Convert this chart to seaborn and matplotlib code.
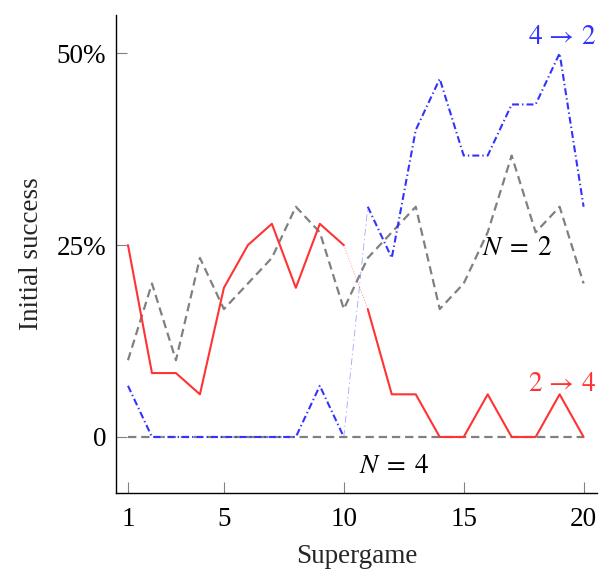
import numpy as np
import pandas as pd
import matplotlib
matplotlib.use("Agg")
import matplotlib.pyplot as plt
import seaborn as sns

# Share of groups with initial success, per supergame (percent)
supergames = list(range(1, 21))

# Treatment 2 -> 4 (switch after supergame 10)
switch_24_first = [25.0, 8.33, 8.33, 5.56, 19.44, 25.0, 27.78, 19.44, 27.78, 25.0]
switch_24_second = [16.67, 5.56, 5.56, 0.0, 0.0, 5.56, 0.0, 0.0, 5.56, 0.0]

# Treatment 4 -> 2 (switch after supergame 10)
switch_42_first = [6.67, 0.0, 0.0, 0.0, 0.0, 0.0, 0.0, 0.0, 6.67, 0.0]
switch_42_second = [30.0, 23.33, 40.0, 46.67, 36.67, 36.67, 43.33, 43.33, 50.0, 30.0]

# Constant-size controls
fixed_n2 = [10.0, 20.0, 10.0, 23.33, 16.67, 20.0, 23.33, 30.0, 26.67, 16.67,
            23.33, 26.67, 30.0, 16.67, 20.0, 26.67, 36.67, 26.67, 30.0, 20.0]
fixed_n4 = [0.0] * 20

ytick_vals = [0, 25, 50]
ytick_labels = ["0", "25%", "50%"]
xtick_vals = [1, 5, 10, 15, 20]

sns.set_theme(style="ticks")
plt.rcParams["font.family"] = ["Liberation Serif", "DejaVu Serif"]
plt.rcParams["mathtext.fontset"] = "stix"
plt.rcParams["lines.scale_dashes"] = False

RED = "#ff3333"
BLUE = "#3333ff"
GRAY = "#808080"
FS = 19.5

fig = plt.figure(figsize=(6.01, 5.73), dpi=100)
ax = fig.add_axes([0.193, 0.1396, 0.8, 0.8344])

first = supergames[:10]
second = supergames[10:]

# Controls
sns.lineplot(x=supergames, y=fixed_n2, ax=ax, color=GRAY, lw=1.6,
             linestyle=(0, (6, 3.5)), zorder=2)
sns.lineplot(x=supergames, y=fixed_n4, ax=ax, color=GRAY, lw=1.6,
             linestyle=(0, (6, 3.5)), zorder=2)

# 4 -> 2
sns.lineplot(x=first, y=switch_42_first, ax=ax, color=BLUE, lw=1.5,
             linestyle=(0, (5, 2.2, 1, 2.2)), zorder=3)
sns.lineplot(x=second, y=switch_42_second, ax=ax, color=BLUE, lw=1.5,
             linestyle=(0, (5, 2.2, 1, 2.2)), zorder=3)
sns.lineplot(x=[first[-1], second[0]], y=[switch_42_first[-1], switch_42_second[0]],
             ax=ax, color=BLUE, lw=0.6, alpha=0.45,
             linestyle=(0, (5, 2.2, 1, 2.2)), zorder=1)

# 2 -> 4
sns.lineplot(x=first, y=switch_24_first, ax=ax, color=RED, lw=1.5, zorder=4)
sns.lineplot(x=second, y=switch_24_second, ax=ax, color=RED, lw=1.5, zorder=4)
sns.lineplot(x=[first[-1], second[0]], y=[switch_24_first[-1], switch_24_second[0]],
             ax=ax, color=RED, lw=0.6, alpha=0.55,
             linestyle=(0, (0.8, 1.2)), zorder=1)

# Series labels
ax.text(19.1, 52.1, r"$4\,\rightarrow\,2$", color=BLUE, fontsize=FS,
        ha="center", va="center")
ax.text(17.25, 24.5, r"$N \;=\; 2$", color="black", fontsize=FS,
        ha="center", va="center")
ax.text(19.1, 6.8, r"$2\,\rightarrow\,4$", color=RED, fontsize=FS,
        ha="center", va="center")
ax.text(12.1, -3.8, r"$N \;=\; 4$", color="black", fontsize=FS,
        ha="center", va="center")

ax.set_xlim(0.5, 20.55)
ax.set_ylim(-7.3, 55.0)
ax.set_xticks(xtick_vals)
ax.set_xticklabels([str(v) for v in xtick_vals])
ax.set_yticks(ytick_vals)
ax.set_yticklabels(ytick_labels)

ax.tick_params(direction="in", length=8, width=0.8, color=GRAY,
               labelsize=FS, pad=7, labelcolor="black")
ax.tick_params(axis="x", pad=10)
ax.set_xlabel("Supergame", fontsize=FS, labelpad=9)
ax.set_ylabel("Initial success", fontsize=FS, labelpad=9)

sns.despine(ax=ax)
for side in ("left", "bottom"):
    ax.spines[side].set_linewidth(1.0)
    ax.spines[side].set_color("black")

fig.savefig("out.png", dpi=100)
